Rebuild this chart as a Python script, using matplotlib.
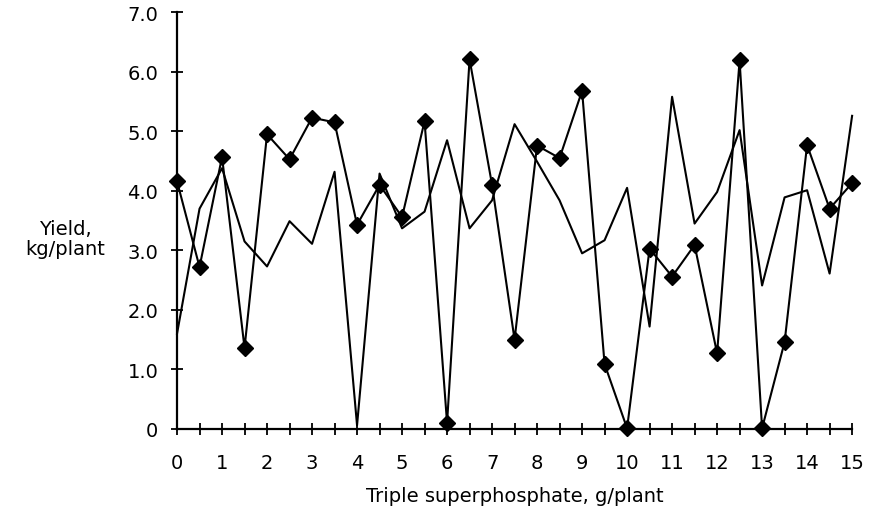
import numpy as np
import matplotlib.pyplot as plt

# fertilizer rate, g/plant (every 0.5 g)
rate = np.arange(0, 15.5, 0.5)

# yield with diamond markers
yield_a = [4.16, 2.72, 4.57, 1.36, 4.95, 4.53, 5.23, 5.15, 3.43, 4.10,
           3.56, 5.17, 0.10, 6.21, 4.10, 1.50, 4.76, 4.55, 5.68, 1.09,
           0.01, 3.03, 2.56, 3.09, 1.27, 6.19, 0.01, 1.46, 4.77, 3.70, 4.13]

# yield, plain line
yield_b = [1.60, 3.70, 4.38, 3.15, 2.73, 3.49, 3.11, 4.32, 0.06, 4.29,
           3.37, 3.65, 4.85, 3.37, 3.84, 5.12, 4.49, 3.84, 2.95, 3.17,
           4.05, 1.72, 5.58, 3.45, 3.98, 5.02, 2.41, 3.89, 4.01, 2.61, 5.26]

xticks = list(range(0, 16))
yticks = [0, 1, 2, 3, 4, 5, 6, 7]
ytick_labels = ["0", "1.0", "2.0", "3.0", "4.0", "5.0", "6.0", "7.0"]

fig = plt.figure(figsize=(8.79, 5.10), dpi=100)
ax = fig.add_axes([0.2014, 0.157, 0.768, 0.817])

ax.plot(rate, yield_b, color="black", lw=1.5, clip_on=False)
ax.plot(rate, yield_a, color="black", lw=1.5, marker="D", markersize=8.5,
        clip_on=False, zorder=3)

ax.set_xlim(0, 15)
ax.set_ylim(0, 7)
ax.set_xticks(xticks)
ax.set_xticks(rate, minor=True)
ax.set_yticks(yticks)
ax.set_yticklabels(ytick_labels)

for s in ["top", "right"]:
    ax.spines[s].set_visible(False)
for s in ["left", "bottom"]:
    ax.spines[s].set_linewidth(1.6)

ax.tick_params(axis="both", which="both", direction="inout", length=9,
               width=1.3, labelsize=14)
ax.tick_params(axis="x", which="both", pad=13)
ax.tick_params(axis="y", which="both", pad=9)

ax.set_xlabel("Triple superphosphate, g/plant", fontsize=14, labelpad=10)
fig.text(0.074, 0.53, "Yield,\nkg/plant", ha="center", va="center",
         fontsize=14, linespacing=1.1)

fig.savefig("out.png", dpi=100)
